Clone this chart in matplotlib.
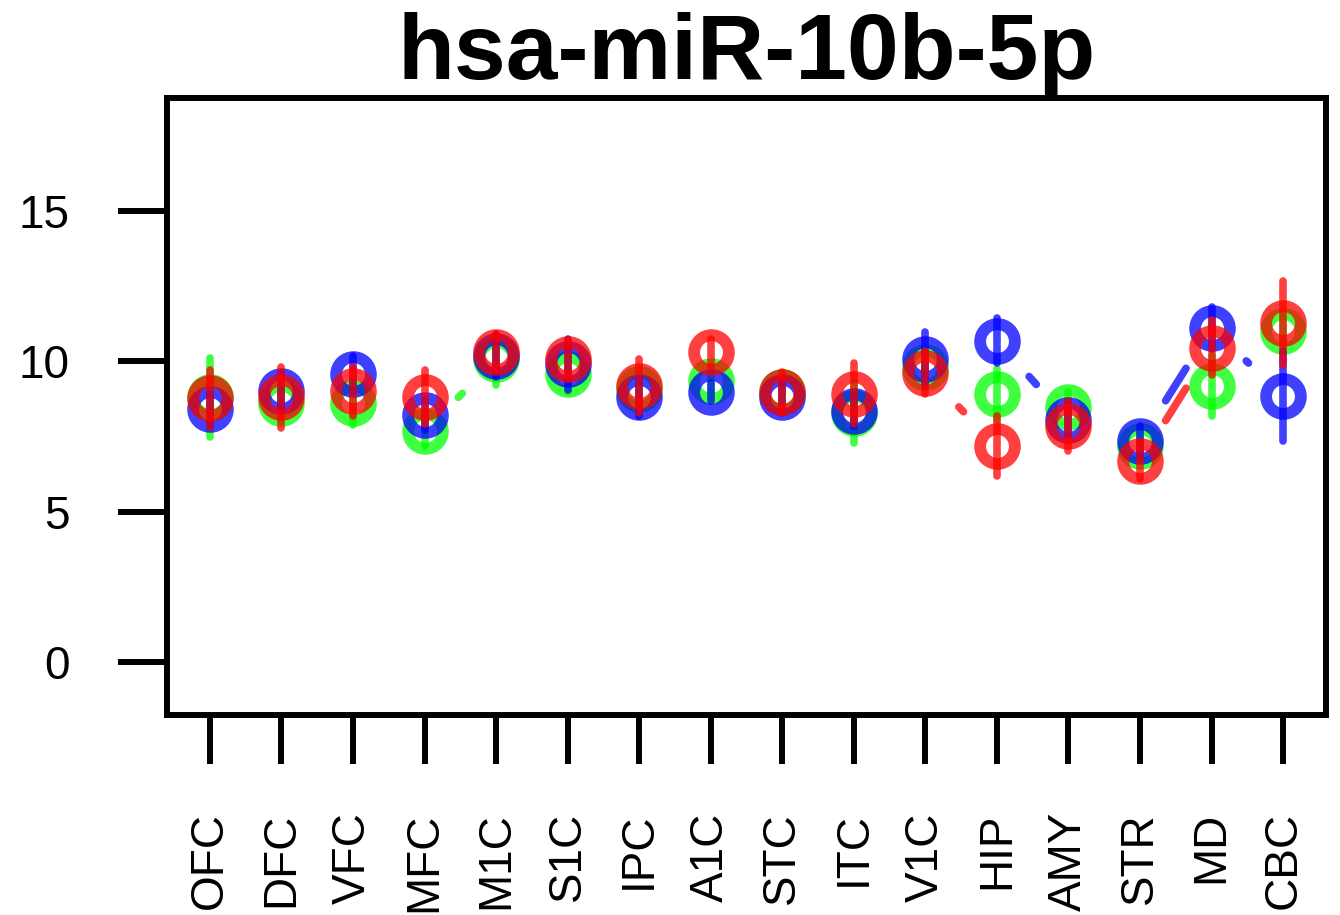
import numpy as np
from matplotlib import pyplot as plt

plt.rcParams['font.family'] = ['Liberation Sans', 'DejaVu Sans']

regions = ['OFC', 'DFC', 'VFC', 'MFC', 'M1C', 'S1C', 'IPC', 'A1C',
           'STC', 'ITC', 'V1C', 'HIP', 'AMY', 'STR', 'MD', 'CBC']

green = [8.8, 8.63, 8.63, 7.67, 10.07, 9.57, 9.07, 9.34,
         8.97, 8.3, 9.8, 8.9, 8.47, 7.18, 9.18, 11.0]
green_err = [1.3, 0.6, 0.73, 0.5, 0.85, 0.6, 0.5, 0.5,
             0.5, 1.0, 0.6, 0.85, 0.5, 0.5, 1.0, 0.5]
blue = [8.4, 9.0, 9.57, 8.23, 10.18, 9.9, 8.8, 8.97,
        8.8, 8.34, 10.07, 10.68, 8.05, 7.34, 11.12, 8.84]
blue_err = [0.5, 0.6, 0.6, 0.5, 0.7, 0.85, 0.6, 0.3,
            0.5, 0.5, 0.9, 0.75, 0.5, 0.5, 0.7, 1.5]
red = [8.78, 8.8, 9.0, 8.83, 10.31, 10.07, 9.18, 10.3,
       8.97, 8.93, 9.63, 7.18, 7.84, 6.68, 10.46, 11.29]
red_err = [0.95, 1.0, 0.8, 0.9, 0.6, 0.6, 0.9, 0.45,
           0.67, 1.0, 0.7, 1.0, 0.83, 0.6, 0.9, 1.4]

series = [(green, green_err, '#00ff00'),
          (blue, blue_err, '#0000ff'),
          (red, red_err, '#ff0000')]

fig = plt.figure(figsize=(13.4, 9.15), dpi=100)
ax = fig.add_axes([0.1246, 0.2186, 0.865, 0.6743])
ax.set_xlim(0.4, 16.6)
ax.set_ylim(-1.76, 18.76)

x = np.arange(1, len(regions) + 1)
gap = 48  # pixels left open around each point (like R type="b")
a = 0.75
lw = 5.5

for k, (vals, err, col) in enumerate(series):
    vals = np.array(vals)
    err = np.array(err)
    z = 2 + k
    # connecting segments with gaps around points
    pts = ax.transData.transform(np.column_stack([x, vals]))
    inv = ax.transData.inverted()
    for i in range(len(x) - 1):
        p0, p1 = pts[i], pts[i + 1]
        d = p1 - p0
        L = np.hypot(*d)
        if L > 2 * gap:
            u = d / L
            q = inv.transform(np.array([p0 + u * gap, p1 - u * gap]))
            ax.plot(q[:, 0], q[:, 1], color=col, alpha=a, lw=lw,
                    solid_capstyle='round', zorder=z)
    ax.plot(x, vals, 'o', mfc='none', mec=col, ms=25, mew=8.5,
            alpha=a, zorder=z)
    for xi, v, e in zip(x, vals, err):
        ax.plot([xi, xi], [v - e, v + e], color=col, alpha=a, lw=lw,
                solid_capstyle='round', zorder=z)

ax.set_yticks([0, 5, 10, 15])
ax.set_xticks(x)
ax.set_xticklabels(regions, rotation=90)
ax.tick_params(axis='both', length=35, width=4.3, direction='out',
               pad=35, labelsize=33)
for s in ax.spines.values():
    s.set_linewidth(4.3)

ax.set_title('hsa-miR-10b-5p', fontsize=67, fontweight='bold', pad=6)

plt.savefig('out.png', dpi=100)
